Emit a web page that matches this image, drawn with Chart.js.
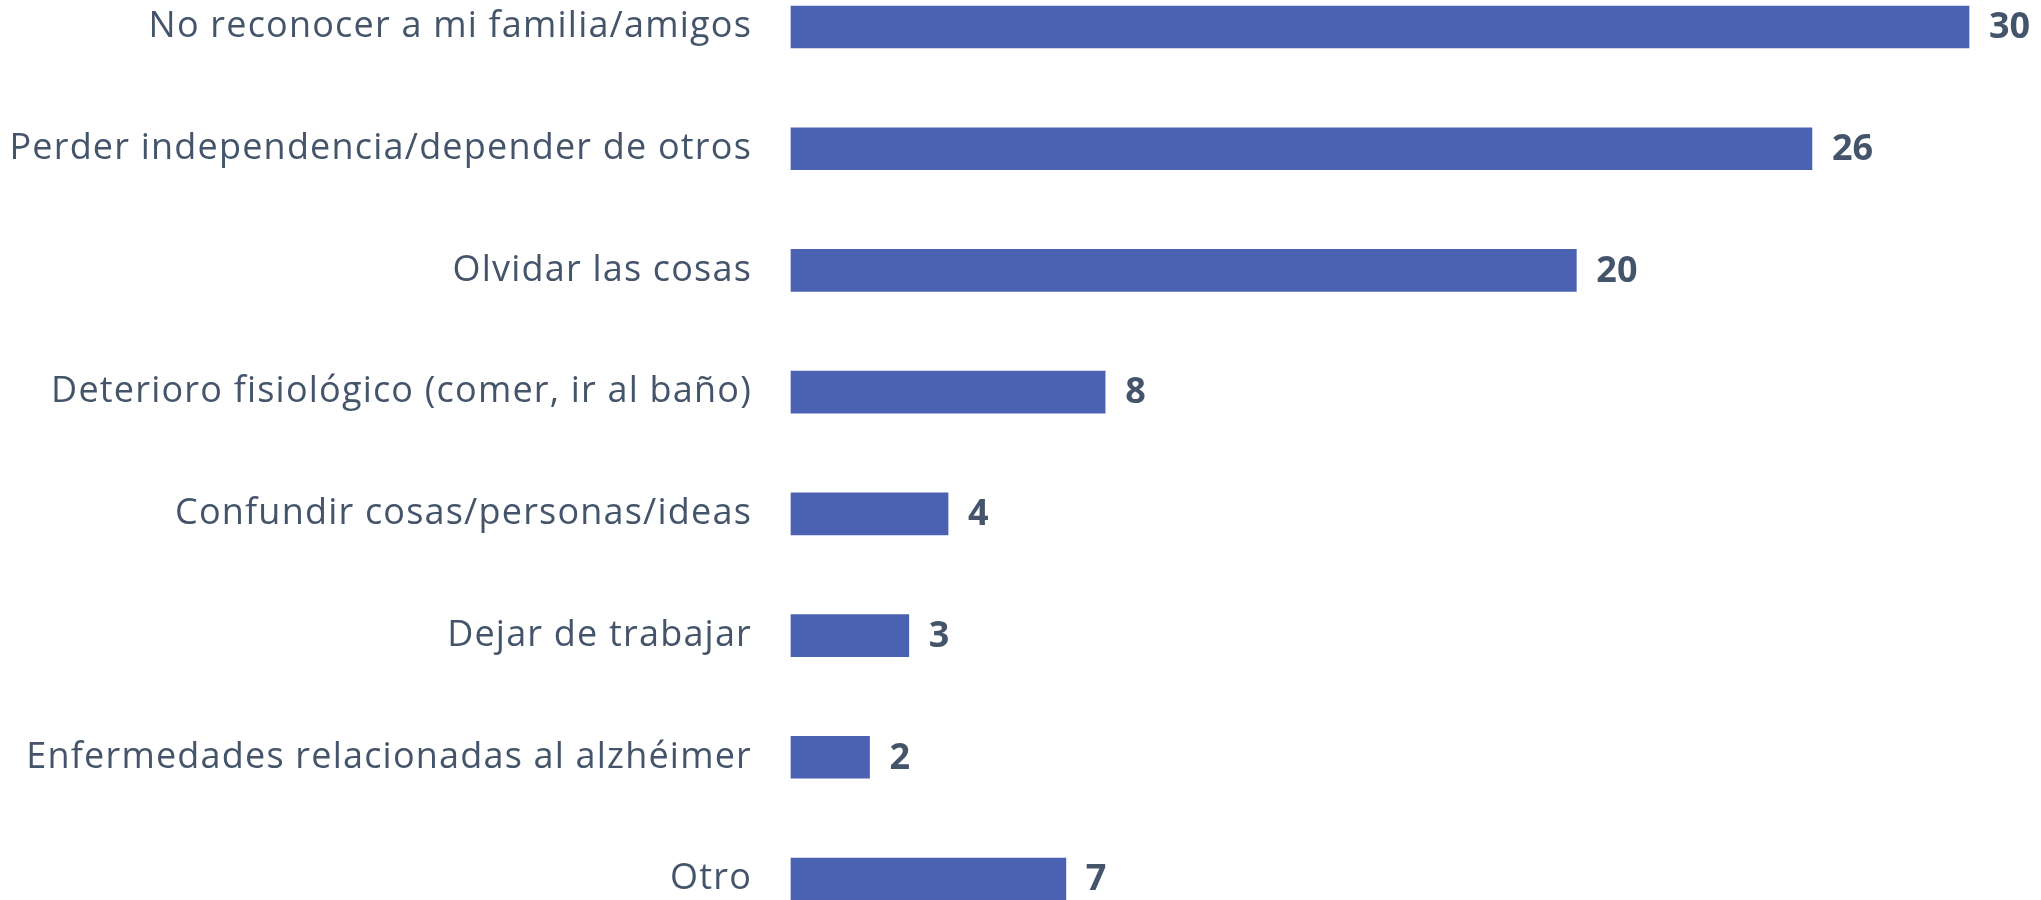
<!DOCTYPE html>
<html>
<head>
<meta charset="utf-8">
<script src="https://cdn.jsdelivr.net/npm/chart.js@4"></script>
<style>
  html, body { margin: 0; padding: 0; background: #ffffff; }
  #wrap { width: 2041px; height: 900px; position: relative; }
</style>
</head>
<body>
<div id="wrap"><canvas id="chart"></canvas></div>
<script>
// Datos del gráfico
const categorias = [
    'No reconocer a mi familia/amigos',
    'Perder independencia/depender de otros',
    'Olvidar las cosas',
    'Deterioro fisiológico (comer, ir al baño)',
    'Confundir cosas/personas/ideas',
    'Dejar de trabajar',
    'Enfermedades relacionadas al alzhéimer',
    'Otro'
];
const valores = [30, 26, 20, 8, 4, 3, 2, 7];

const colorBarra = '#4B62B3';
const colorTexto = '#44546A';
const fuente = '"Open Sans", "DejaVu Sans", sans-serif';

// Espaciado de letras para las etiquetas de categoría
const espaciado = {
    id: 'espaciado',
    beforeDraw(chart) {
        chart.ctx.letterSpacing = '1.2px';
    }
};

// Etiquetas de valor al final de cada barra
const etiquetasValor = {
    id: 'etiquetasValor',
    afterDatasetsDraw(chart) {
        const ctx = chart.ctx;
        const meta = chart.getDatasetMeta(0);
        ctx.save();
        ctx.letterSpacing = '0px';
        ctx.font = 'bold 36px ' + fuente;
        ctx.fillStyle = colorTexto;
        ctx.textAlign = 'left';
        ctx.textBaseline = 'middle';
        meta.data.forEach((bar, i) => {
            ctx.fillText(String(valores[i]), bar.x + 20, bar.y + 1);
        });
        ctx.restore();
    }
};

new Chart(document.getElementById('chart').getContext('2d'), {
    type: 'bar',
    data: {
        labels: categorias,
        datasets: [{
            data: valores,
            backgroundColor: colorBarra,
            borderWidth: 0,
            barThickness: 42,
            clip: false
        }]
    },
    options: {
        indexAxis: 'y',
        responsive: true,
        maintainAspectRatio: false,
        animation: false,
        devicePixelRatio: 1,
        layout: {
            padding: { top: 27, bottom: 21, left: 0, right: 72 }
        },
        plugins: {
            legend: { display: false },
            tooltip: { enabled: false }
        },
        scales: {
            x: {
                display: false,
                min: 0,
                max: 30
            },
            y: {
                offset: false,
                grid: { display: false, drawTicks: false },
                border: { display: false },
                ticks: {
                    padding: 39,
                    color: colorTexto,
                    font: { family: fuente, size: 36 }
                },
                afterFit(scale) {
                    scale.width = 791;
                    scale.paddingTop = 0;
                    scale.paddingBottom = 0;
                }
            }
        }
    },
    plugins: [espaciado, etiquetasValor]
});
</script>
</body>
</html>
